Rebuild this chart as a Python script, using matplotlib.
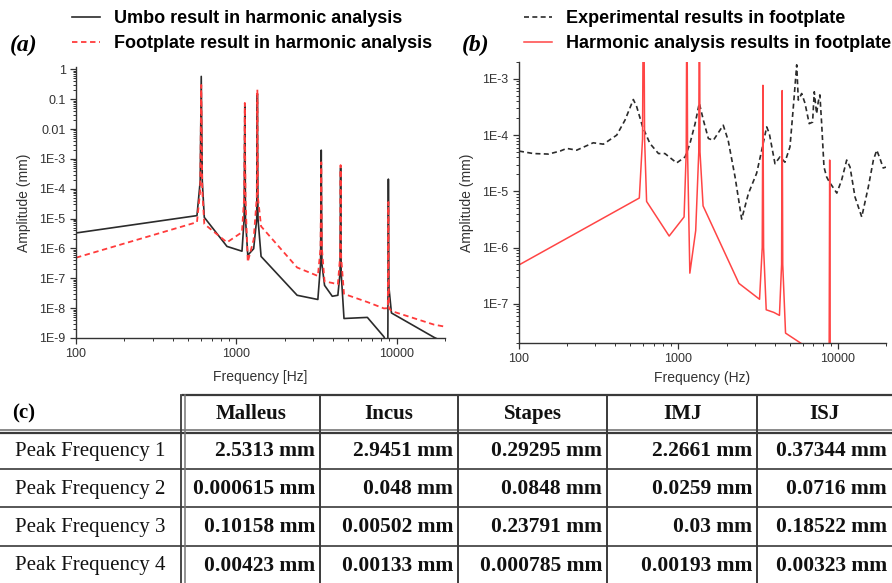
import numpy as np
import matplotlib.pyplot as plt
from matplotlib.ticker import FixedLocator, FuncFormatter, LogLocator, NullFormatter

plt.rcParams['font.family'] = ['Liberation Sans', 'DejaVu Sans']

# harmonic analysis frequencies (Hz)
freq = [100, 568, 595, 604, 613, 631, 874, 1084, 1118, 1129, 1140, 1178, 1282, 1340,
        1352, 1364, 1426, 2393, 3222, 3350, 3383, 3416, 3548, 3963, 4295, 4430, 4467,
        4504, 4690, 6560, 8320, 8800, 8870, 8940, 9270, 17100, 20000]
umbo = [3.3e-6, 1.26e-5, 1.8e-4, 0.58, 1.8e-4, 1.1e-5, 1.17e-6, 8.1e-7, 1e-5, 0.06, 1e-5,
        5.9e-7, 9.8e-7, 1e-5, 0.15, 1e-5, 5.4e-7, 2.7e-8, 1.95e-8, 3e-7, 1.96e-3, 3e-7,
        5.8e-8, 2.5e-8, 2.7e-8, 1.5e-7, 5e-4, 1.5e-7, 4.5e-9, 4.9e-9, 1.1e-9, 5e-10,
        2.1e-4, 5e-8, 6.9e-9, 1.05e-9, 7e-10]
footplate = [4.9e-7, 7.6e-6, 8.5e-5, 0.3, 8.5e-5, 6.6e-6, 1.6e-6, 3.5e-6, 5e-5, 0.075, 5e-5,
             3.5e-7, 2e-6, 5e-5, 0.21, 5e-5, 5.5e-6, 2.3e-7, 1.2e-7, 1e-6, 7.7e-4, 1e-6,
             7.8e-8, 7e-8, 6.2e-8, 5e-7, 6.2e-4, 5e-7, 3e-8, 1.6e-8, 9.8e-9, 1e-8,
             3.6e-5, 1e-8, 8e-9, 2.8e-9, 2.4e-9]

# experimental footplate measurement
exp_freq = [100, 123, 153, 181, 199, 230, 292, 338, 410, 462, 521, 547, 596, 662, 749, 822,
            974, 1100, 1180, 1271, 1350, 1432, 1539, 1655, 1908, 2048, 2263, 2490, 2743,
            3090, 3327, 3573, 3710, 4027, 4327, 4650, 5000, 5250, 5510, 5640, 5920, 6210,
            6600, 6930, 7100, 7340, 7520, 7700, 7900, 8170, 8490, 8820, 9140, 9830, 10550,
            11340, 11900, 12790, 14090, 15500, 16670, 17500, 18350, 19200, 20000]
exp_amp = [5.2e-5, 4.7e-5, 4.6e-5, 5.2e-5, 5.8e-5, 5.4e-5, 7.3e-5, 6.9e-5, 1e-4, 1.85e-4,
           4.3e-4, 3.2e-4, 1.4e-4, 7.1e-5, 4.7e-5, 4.7e-5, 3.2e-5, 4.1e-5, 7.1e-5, 1.6e-4,
           3.7e-4, 1.85e-4, 8.7e-5, 8.1e-5, 1.5e-4, 8.1e-5, 1.8e-5, 3.2e-6, 9.1e-6, 2.1e-5,
           5.4e-5, 1.4e-4, 1.07e-4, 3.1e-5, 4.1e-5, 3.3e-5, 6.2e-5, 3.2e-4, 1.78e-3, 4.2e-4,
           5.5e-4, 3.7e-4, 1.6e-4, 1.7e-4, 5.9e-4, 2.4e-4, 3.9e-4, 5.2e-4, 1.6e-4, 2.7e-5,
           1.8e-5, 1.47e-5, 1.27e-5, 9.3e-6, 1.6e-5, 3.6e-5, 2.7e-5, 7.9e-6, 3.5e-6, 1.2e-5,
           3.6e-5, 5.4e-5, 3.8e-5, 2.6e-5, 2.7e-5]

# table (c)
parts = ['Malleus', 'Incus', 'Stapes', 'IMJ', 'ISJ']
rows = ['Peak Frequency 1', 'Peak Frequency 2', 'Peak Frequency 3', 'Peak Frequency 4']
cells = [['2.5313 mm', '2.9451 mm', '0.29295 mm', '2.2661 mm', '0.37344 mm'],
         ['0.000615 mm', '0.048 mm', '0.0848 mm', '0.0259 mm', '0.0716 mm'],
         ['0.10158 mm', '0.00502 mm', '0.23791 mm', '0.03 mm', '0.18522 mm'],
         ['0.00423 mm', '0.00133 mm', '0.000785 mm', '0.00193 mm', '0.00323 mm']]

W, H = 892, 583
fig = plt.figure(figsize=(W / 100, H / 100), dpi=100)
grey = '#333333'


def style(ax):
    for s in ['top', 'right']:
        ax.spines[s].set_visible(False)
    for s in ['left', 'bottom']:
        ax.spines[s].set_color(grey)
        ax.spines[s].set_linewidth(1.0)
    ax.set_xscale('log')
    ax.set_yscale('log')
    ax.tick_params(which='major', direction='out', length=4, width=0.9, color=grey,
                   labelsize=9, labelcolor=grey)
    ax.tick_params(which='minor', direction='out', length=2, width=0.7, color=grey)
    ax.set_xticks([100, 1000, 10000])
    ax.xaxis.set_major_formatter(FuncFormatter(lambda v, p: '%d' % v))
    ax.xaxis.set_minor_formatter(NullFormatter())
    ax.yaxis.set_minor_locator(LogLocator(base=10, subs=np.arange(2, 10)))
    ax.yaxis.set_minor_formatter(NullFormatter())


def elabel(v, p):
    e = int(round(np.log10(v)))
    if e >= -2:
        return {0: '1', -1: '0.1', -2: '0.01'}[e]
    return '1E%d' % e


# (a)
ax1 = fig.add_axes([76 / W, 1 - 338 / H, 369 / W, 271 / H])
style(ax1)
l1, = ax1.plot(freq, umbo, color='#2b2b2b', lw=1.2)
l2, = ax1.plot(freq, footplate, color='#ff3b3b', lw=1.3, ls=(0, (3, 2)))
ax1.set_xlim(100, 20000)
ax1.set_ylim(1e-9, 1.2)
ax1.yaxis.set_major_locator(FixedLocator([10.0 ** e for e in range(-9, 1)]))
ax1.yaxis.set_major_formatter(FuncFormatter(elabel))
ax1.set_xlabel('Frequency [Hz]', fontsize=10, color=grey, labelpad=7)
ax1.set_ylabel('Amplitude (mm)', fontsize=10, color=grey, labelpad=6)

# (b)
ax2 = fig.add_axes([519 / W, 1 - 343 / H, 367 / W, 281 / H])
style(ax2)
l3, = ax2.plot(exp_freq, exp_amp, color='#2b2b2b', lw=1.2, ls=(0, (3, 2)))
l4, = ax2.plot(freq, footplate, color='#ff4545', lw=1.1)
ax2.set_xlim(100, 20000)
ax2.set_ylim(2e-8, 2e-3)
ax2.yaxis.set_major_locator(FixedLocator([10.0 ** e for e in range(-7, -2)]))
ax2.yaxis.set_major_formatter(FuncFormatter(elabel))
ax2.set_xlabel('Frequency (Hz)', fontsize=10, color=grey, labelpad=4)
ax2.set_ylabel('Amplitude (mm)', fontsize=10, color=grey, labelpad=6)

leg_kw = dict(loc='upper left', frameon=False, handlelength=1.55, handletextpad=0.75,
              labelspacing=0.45, borderaxespad=0, borderpad=0,
              prop={'weight': 'bold', 'size': 13, 'family': 'Liberation Sans'})
fig.legend([l1, l2], ['Umbo result in harmonic analysis',
                      'Footplate result in harmonic analysis'],
           bbox_to_anchor=(72 / W, 1 - 10 / H), **leg_kw)
fig.legend([l3, l4], ['Experimental results in footplate',
                      'Harmonic analysis results in footplate'],
           bbox_to_anchor=(524 / W, 1 - 10 / H), **leg_kw)

for x, lab in [(10, '(a)'), (462, '(b)')]:
    fig.text(x / W, 1 - 45 / H, lab, fontsize=17, fontweight='bold', style='italic',
             family='Liberation Serif', va='center', ha='left')

# table (c)
tax = fig.add_axes([0, 0, 1, 1], zorder=-1)
tax.set_xlim(0, W)
tax.set_ylim(H, 0)
tax.axis('off')
col_edges = [183, 320, 458, 607, 757, 892]
top, head_bot, row_h = 395, 431, 38.2
lc = '#3a3a3a'
tax.plot([col_edges[0], W], [top, top], color=lc, lw=1.6)
tax.plot([0, W], [head_bot - 1.5, head_bot - 1.5], color='#777777', lw=1.2)
tax.plot([0, W], [head_bot + 1.5, head_bot + 1.5], color=lc, lw=1.6)
for i in range(1, len(rows)):
    y = head_bot + i * row_h
    tax.plot([0, W], [y, y], color=lc, lw=1.2)
tax.plot([181, 181], [top, H], color=lc, lw=1.3)
tax.plot([185, 185], [top, H], color='#777777', lw=1.1)
for x in col_edges[1:-1]:
    tax.plot([x, x], [top, H], color=lc, lw=1.4)

tax.text(12, (top + head_bot) / 2, '(c)', fontsize=15, fontweight='bold',
         family='Liberation Serif', va='center', ha='left')
for j, name in enumerate(parts):
    cx = (col_edges[j] + col_edges[j + 1]) / 2
    tax.text(cx, (top + head_bot) / 2 + 1, name, fontsize=15, fontweight='bold',
             family='Liberation Serif', va='center', ha='center', color='#111111')
for i, rname in enumerate(rows):
    cy = head_bot + (i + 0.5) * row_h + 1
    tax.text(15, cy, rname, fontsize=15, family='Liberation Serif', va='center',
             ha='left', color='#111111')
    for j, val in enumerate(cells[i]):
        tax.text(col_edges[j + 1] - 5, cy, val, fontsize=15.5, fontweight='bold',
                 family='Liberation Serif', va='center', ha='right', color='#111111')

fig.savefig('out.png', dpi=100)
